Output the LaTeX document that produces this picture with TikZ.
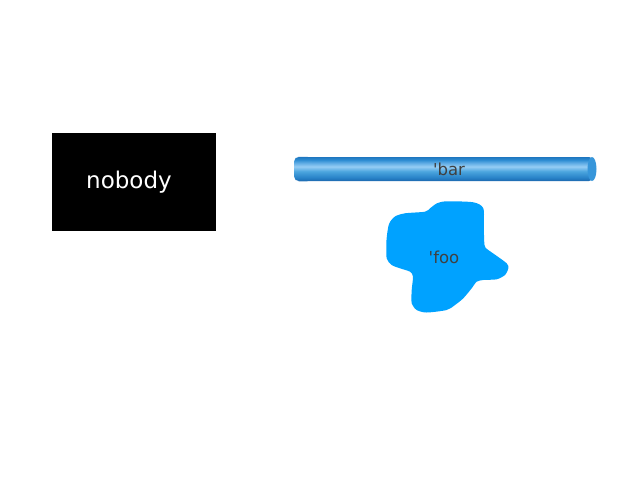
\documentclass[tikz,border=0pt]{standalone}
\usepackage{fontspec}
\setmainfont{DejaVu Sans}
\definecolor{blobblue}{RGB}{0,162,255}
\definecolor{labelgray}{RGB}{64,64,64}
\definecolor{capblue}{RGB}{55,150,218}
\definecolor{bA}{RGB}{28,105,175}
\definecolor{bB}{RGB}{40,130,200}
\definecolor{bC}{RGB}{75,165,222}
\definecolor{bD}{RGB}{150,205,245}
\definecolor{bE}{RGB}{100,175,230}
\definecolor{bF}{RGB}{45,140,210}
\definecolor{bG}{RGB}{30,118,192}
\pgfdeclareverticalshading{barshade}{100bp}{
  color(0bp)=(bA); color(25bp)=(bA); color(32bp)=(bB); color(45bp)=(bC);
  color(55bp)=(bD); color(62bp)=(bE); color(69bp)=(bF); color(75bp)=(bG);
  color(100bp)=(bG)}
\tikzset{
  boxtext/.style={text=white, font=\fontsize{23}{26}\selectfont},
  labeltext/.style={text=labelgray, font=\fontsize{16.5}{19}\selectfont},
}
\begin{document}
\begin{tikzpicture}[x=1pt,y=-1pt]
\useasboundingbox (0,0) rectangle (640,480);
% black box
\fill[black] (52,133) rectangle (216,231);
\node[boxtext] (nobody) at (129,182.5) {nobody};
% cylinder bar
\shade[shading=barshade, rounded corners=5pt] (294,157) -- (594,157) -- (594,181) -- (294,181) -- cycle;
\shade[shading=barshade, rounded corners=5pt, opacity=0.35] (294,156.5) -- (312,156.5) -- (312,181.5) -- (294,181.5) -- cycle;
\fill[capblue] (592,169) ellipse [x radius=4.5, y radius=12];
\node[labeltext] (bar) at (449,169) {\textquotesingle bar};
% blob
\fill[blobblue] plot[smooth cycle, tension=0.45] coordinates {
  (437,203.3) (446.7,201.3) (473.3,202.3) (483.3,208.3) (483.8,228) (484.5,245)
  (487,249) (493.3,253.5) (506.7,263.3) (508.3,268.3) (505,275) (496.7,279.3)
  (483.3,280) (476.7,281.7) (471.7,288.3) (463.3,298.3) (455,305) (446.7,310)
  (426.7,312.5) (416.7,310) (411.7,303.3) (411.7,290) (413,276.7) (410,271.7)
  (400,268.3) (391.7,265) (386.7,258.3) (386.5,240) (389,224) (395,216.5)
  (405,213.3) (425,211.7) (430,208.3)};
\node[labeltext] (foo) at (444,257) {\textquotesingle foo};
\end{tikzpicture}
\end{document}
